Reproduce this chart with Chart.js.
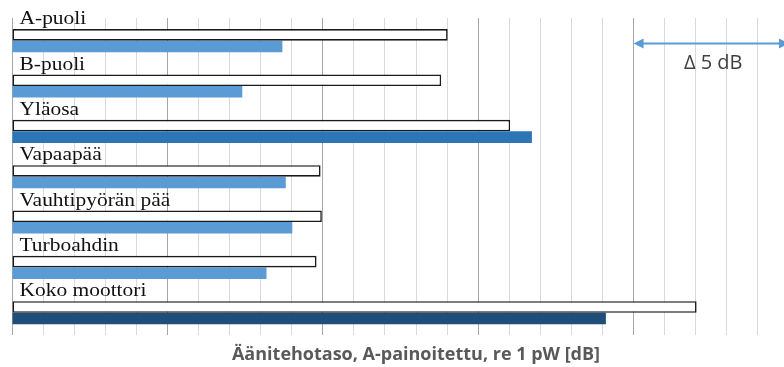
<!DOCTYPE html>
<html>
<head>
<meta charset="utf-8">
<script src="https://cdn.jsdelivr.net/npm/chart.js@4/dist/chart.umd.min.js"></script>
<style>
  html, body { margin: 0; padding: 0; background: #fff; overflow: hidden; }
  #wrap { width: 784px; height: 367px; overflow: hidden; }
  canvas { display: block; }
</style>
</head>
<body>
<div id="wrap"><canvas id="c" width="820" height="367"></canvas></div>
<script>
// Sound power level per engine part, A-weighted, re 1 pW [dB]
// (values counted in dB from the start of the value axis)
const categories = ['A-puoli', 'B-puoli', 'Yläosa', 'Vapaapää', 'Vauhtipyörän pää', 'Turboahdin', 'Koko moottori'];
const outlineSeries = [14.02, 13.81, 16.03, 9.93, 9.97, 9.80, 22.03];
const filledSeries  = [8.70, 7.41, 16.73, 8.81, 9.02, 8.19, 19.11];
const axisMin = 0;
const axisMax = 26;
const axisStep = 1;
const majorEvery = 5;
const deltaFrom = 20;
const deltaTo = 25;
const deltaText = 'Δ 5 dB';
const axisTitle = 'Äänitehotaso, A-painoitettu, re 1 pW [dB]';

const filledColors = ['#5B9BD5', '#5B9BD5', '#2E75B6', '#5B9BD5', '#5B9BD5', '#5B9BD5', '#1F4E79'];

// Category names written above each pair of bars (slightly widened serif)
const categoryLabels = {
  id: 'categoryLabels',
  afterDatasetsDraw(chart) {
    const { ctx, chartArea, scales: { y } } = chart;
    const stretch = 1.1;
    ctx.save();
    ctx.font = '19.5px "Liberation Serif", "Times New Roman", serif';
    ctx.fillStyle = '#111';
    ctx.textAlign = 'left';
    ctx.textBaseline = 'alphabetic';
    categories.forEach((name, i) => {
      const tx = chartArea.left + 7.5;
      const ty = y.getPixelForValue(i) - 16.5;
      ctx.save();
      ctx.translate(tx, ty);
      ctx.scale(stretch, 1);
      ctx.fillText(name, 0, 0);
      ctx.restore();
    });
    ctx.restore();
  }
};

// Double-headed arrow showing the width of a 5 dB step
const deltaMarker = {
  id: 'deltaMarker',
  afterDatasetsDraw(chart) {
    const { ctx, chartArea, scales: { x } } = chart;
    const x1 = x.getPixelForValue(deltaFrom);
    const x2 = x.getPixelForValue(deltaTo);
    const yy = chartArea.top + 25.5;
    const head = 10, half = 5;
    ctx.save();
    ctx.strokeStyle = '#5B9BD5';
    ctx.fillStyle = '#5B9BD5';
    ctx.lineWidth = 2;
    ctx.beginPath();
    ctx.moveTo(x1 + head - 2, yy);
    ctx.lineTo(x2 - head + 2, yy);
    ctx.stroke();
    ctx.beginPath();
    ctx.moveTo(x1, yy);
    ctx.lineTo(x1 + head, yy - half);
    ctx.lineTo(x1 + head, yy + half);
    ctx.closePath();
    ctx.fill();
    ctx.beginPath();
    ctx.moveTo(x2, yy);
    ctx.lineTo(x2 - head, yy - half);
    ctx.lineTo(x2 - head, yy + half);
    ctx.closePath();
    ctx.fill();
    ctx.font = '20px "Open Sans", Lato, sans-serif';
    ctx.fillStyle = '#404040';
    ctx.textAlign = 'center';
    ctx.textBaseline = 'middle';
    ctx.fillText(deltaText, (x1 + x2) / 2 + 2, yy + 20);
    ctx.restore();
  }
};

new Chart(document.getElementById('c'), {
  type: 'bar',
  data: {
    labels: categories,
    datasets: [
      {
        data: outlineSeries,
        backgroundColor: '#ffffff',
        borderColor: '#1a1a1a',
        borderWidth: 1.6,
        borderSkipped: false
      },
      {
        data: filledSeries,
        backgroundColor: filledColors,
        borderWidth: 0
      }
    ]
  },
  options: {
    indexAxis: 'y',
    responsive: false,
    animation: false,
    devicePixelRatio: 1,
    layout: { padding: { left: 12, top: 18, right: 0, bottom: 0 } },
    datasets: { bar: { categoryPercentage: 0.51, barPercentage: 1 } },
    plugins: {
      legend: { display: false },
      tooltip: { enabled: false }
    },
    scales: {
      x: {
        min: axisMin,
        max: axisMax,
        border: { display: false },
        grid: {
          drawTicks: false,
          lineWidth: 1,
          color: (c) => (c.tick && c.tick.value % majorEvery === 0) ? '#a6a6a6' : '#d9d9d9'
        },
        ticks: { display: false, stepSize: axisStep, includeBounds: false },
        title: {
          display: true,
          text: axisTitle,
          color: '#595959',
          font: { family: '"Open Sans", Lato, sans-serif', size: 18, weight: 'bold', lineHeight: 1.2 },
          padding: { top: 8.3, bottom: 1.7 }
        }
      },
      y: {
        display: false,
        grid: { display: false }
      }
    }
  },
  plugins: [categoryLabels, deltaMarker]
});
</script>
</body>
</html>
